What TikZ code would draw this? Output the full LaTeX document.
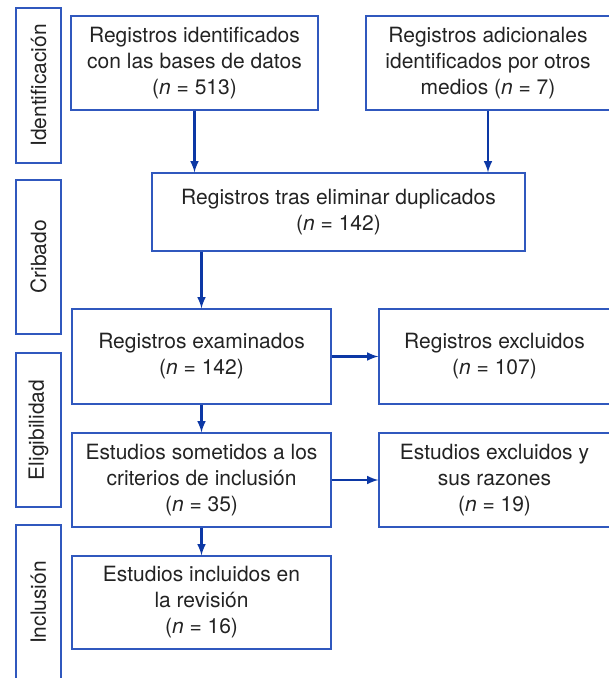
\documentclass[tikz,border=0pt]{standalone}
\usepackage{fontspec}
\setmainfont{TeX Gyre Heros}
\usepackage{tikz}
\usetikzlibrary{calc,arrows}
\definecolor{bordeazul}{RGB}{48,88,190}
\definecolor{flechazul}{RGB}{12,56,165}
\definecolor{texto}{RGB}{35,35,35}

\begin{document}
\begin{tikzpicture}[x=1pt,y=-1pt,
  caja/.style={draw=bordeazul,line width=1.2pt,align=center,inner sep=0pt,text=texto,font=\fontsize{21}{26}\selectfont},
  fase/.style={caja,rotate=90,minimum height=45pt},
  flecha/.style={-latex,color=flechazul,line width=2.8pt}]
              \useasboundingbox (0,0) rectangle (609,678);
              % fases
              \node[fase,minimum width=155pt](f1)at(38.5,85.5){Identificación};
              \node[fase,minimum width=154pt](f2)at(38.5,257){Cribado};
              \node[fase,minimum width=154pt](f3)at(38.5,430){Eligibilidad};
              \node[fase,minimum width=155pt](f4)at(38.5,602.5){Inclusión};
              % cajas
              \node[caja,minimum width=247pt,minimum height=94pt](a)at(194.5,63){Registros identificados\\con las bases de datos\\(\textit{n} = 513)};
              \node[caja,minimum width=244pt,minimum height=94pt](b)at(488,63){Registros adicionales\\identificados por otros\\medios (\textit{n} = 7)};
              \node[caja,minimum width=373pt,minimum height=78pt](c)at(338.5,212){Registros tras eliminar duplicados\\(\textit{n} = 142)};
              \node[caja,minimum width=259pt,minimum height=95pt](d)at(201.5,356.5){Registros examinados\\(\textit{n} = 142)};
              \node[caja,minimum width=231pt,minimum height=95pt](e)at(494.5,356.5){Registros excluidos\\(\textit{n} = 107)};
              \node[caja,minimum width=259pt,minimum height=94pt](f)at(201.5,480){Estudios sometidos a los\\criterios de inclusión\\(\textit{n} = 35)};
              \node[caja,minimum width=231pt,minimum height=94pt](g)at(494.5,480){Estudios excluidos y\\sus razones\\(\textit{n} = 19)};
              \node[caja,minimum width=259pt,minimum height=93pt](h)at(201.5,602.5){Estudios incluidos en\\la revisión\\(\textit{n} = 16)};
              % flechas
              \draw[flecha](a)--(a|-c.north);
              \draw[flecha](b)--(b|-c.north);
              \draw[flecha](c.south-|d)--(d);
              \draw[flecha](d)--(e);
              \draw[flecha](d)--(f);
              \draw[flecha](f)--(g);
              \draw[flecha](f)--(h);
\end{tikzpicture}
\end{document}
